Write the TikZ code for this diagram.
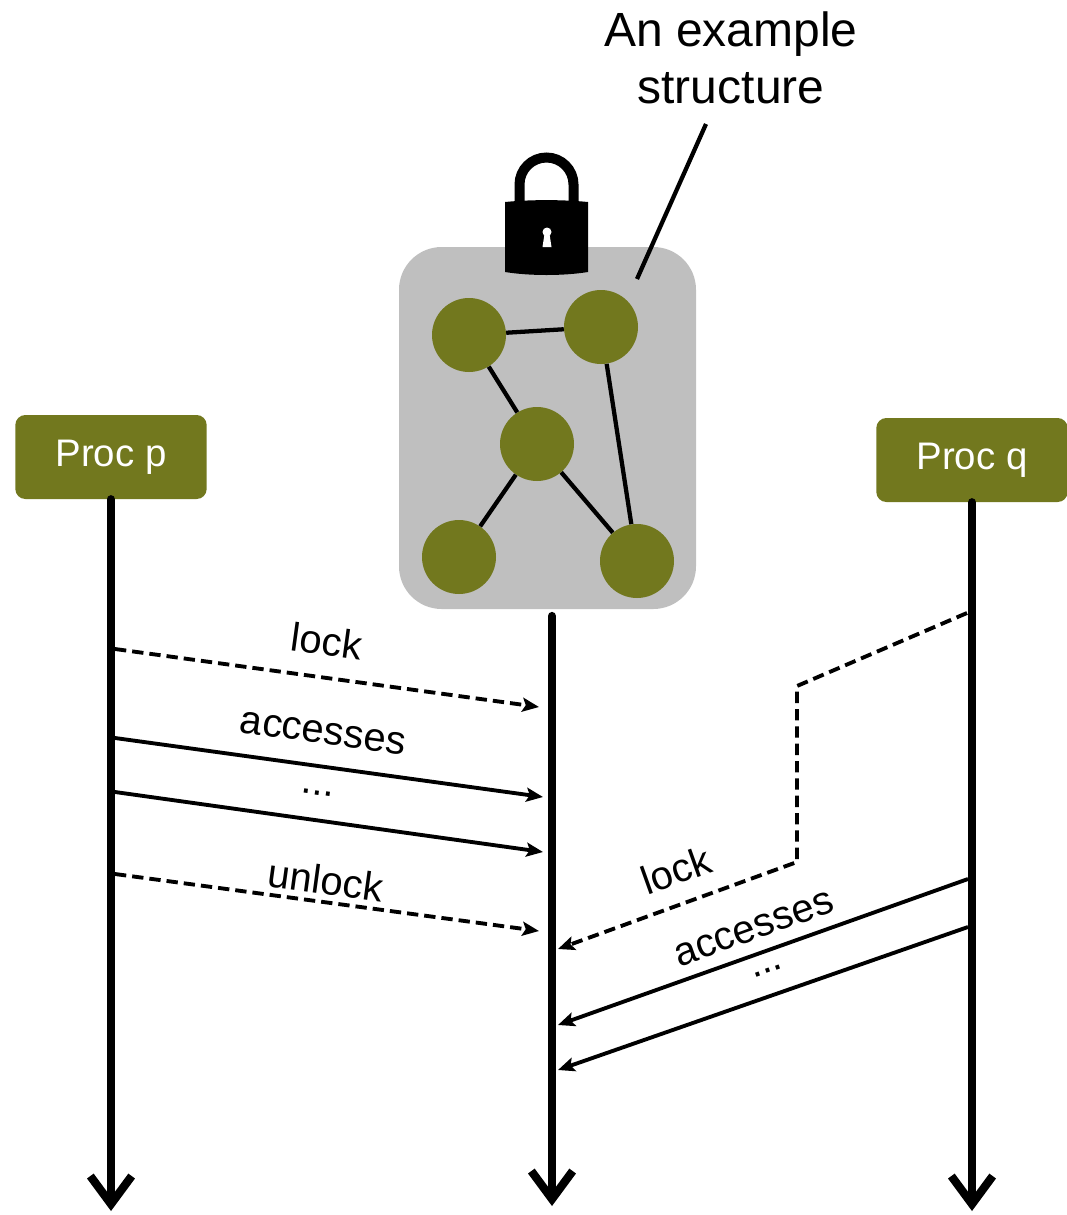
\documentclass[tikz,border=0pt]{standalone}
\usepackage{fontspec}
\setmainfont{Liberation Sans}
\usetikzlibrary{arrows.meta}
\definecolor{olive}{RGB}{114,120,30}
\definecolor{boxgray}{RGB}{191,191,191}

\begin{document}
\begin{tikzpicture}[x=0.75pt,y=-0.75pt]
	\tikzstyle{proc}=[fill=olive,rounded corners=7.5pt,minimum width=143.5pt,minimum height=63pt,text=white,font=\fontsize{28.8}{34}\selectfont];
	\tikzstyle{elem}=[circle,fill=olive,minimum size=55.5pt,inner sep=0pt];
	\tikzstyle{edge}=[line width=3.2pt];
	\tikzstyle{lifeline}=[line width=6.2pt,line cap=round,-{Straight Barb[length=21pt,width=31pt]}];
	\tikzstyle{msg}=[line width=2.9pt,-{Stealth[length=12.5pt,width=10.5pt,inset=2.5pt]}];
	\tikzstyle{ctrl}=[msg,dash pattern=on 8.5pt off 4.5pt];
	\tikzstyle{lbl}=[font=\fontsize{30}{36}\selectfont,inner sep=0pt];
	\useasboundingbox (0,0) rectangle (1067,1215);
	% the shared structure
	\node[fill=boxgray,rounded corners=32pt,minimum width=222.75pt,minimum height=271.5pt] (struct) at (547.5,428) {};
	\node[elem] (e1) at (469,335) {};
	\node[elem] (e2) at (601,327) {};
	\node[elem] (e3) at (537,444) {};
	\node[elem] (e4) at (459,557) {};
	\node[elem] (e5) at (637,561) {};
	\draw[edge] (e1) -- (e2)
	(e1) -- (e3)
	(e2) -- (e5)
	(e3) -- (e4)
	(e3) -- (e5);
	% padlock
	\fill (505,202) .. controls (530,199.5) and (563,199.5) .. (588,202) -- (588,272) .. controls (563,276) and (530,276) .. (505,272) -- cycle;
	\draw[line width=7.5pt] (519.5,204) -- (519.5,184.5) arc (180:360:27) -- (573.5,204);
	\fill[white] (547,232) circle (4.5);
	\fill[white] (544.5,234) -- (549.5,234) -- (551.5,247) -- (542.5,247) -- cycle;
	% caption
	\node[font=\fontsize{36}{43}\selectfont,align=center,inner sep=0pt] (title) at (731,58) {An example\\structure};
	\coordinate (ptrlow) at (637,279);
	\coordinate (ptrhigh) at (706,124);
	\draw[edge] (ptrlow) -- (ptrhigh);
	% processes and time lines
	\node[proc] (procp) at (111,457) {Proc p};
	\node[proc] (procq) at (972,460) {Proc q};
	\coordinate (midtop) at (552,616);
	\coordinate (pend) at (111,1211);
	\coordinate (mend) at (552,1206);
	\coordinate (qend) at (972,1211);
	\draw[lifeline] (procp.south) -- (pend);
	\draw[lifeline] (midtop) -- (mend);
	\draw[lifeline] (procq.south) -- (qend);
	% messages of p
	\coordinate (p1) at (115,649);
	\coordinate (m1) at (539,707);
	\coordinate (p2) at (115,738);
	\coordinate (m2) at (543,797);
	\coordinate (p3) at (115,792);
	\coordinate (m3) at (543,852);
	\coordinate (p4) at (115,874);
	\coordinate (m4) at (539,931);
	\draw[ctrl] (p1) -- (m1);
	\draw[msg] (p2) -- (m2);
	\draw[msg] (p3) -- (m3);
	\draw[ctrl] (p4) -- (m4);
	\node[lbl,rotate=-7.8] (plock) at (327,641) {lock};
	\node[lbl,rotate=-7.8] (pacc) at (323,733) {accesses};
	\node[lbl,rotate=-7.8] (pdots) at (317,793) {...};
	\node[lbl,rotate=-7.8] (punlock) at (326,880) {unlock};
	% messages of q
	\coordinate (q1) at (967,613);
	\coordinate (k1) at (797,686);
	\coordinate (k2) at (797,862);
	\coordinate (m5) at (558,949);
	\coordinate (q2) at (968,879);
	\coordinate (m6) at (558,1025);
	\coordinate (q3) at (968,927);
	\coordinate (m7) at (558,1070);
	\draw[ctrl] (q1) -- (k1) -- (k2) -- (m5);
	\draw[msg] (q2) -- (m6);
	\draw[msg] (q3) -- (m7);
	\node[lbl,rotate=19.7] (qlock) at (676,870) {lock};
	\node[lbl,rotate=19.7] (qacc) at (754,929) {accesses};
	\node[lbl,rotate=19.7] (qdots) at (768,971) {...};
\end{tikzpicture}
\end{document}
